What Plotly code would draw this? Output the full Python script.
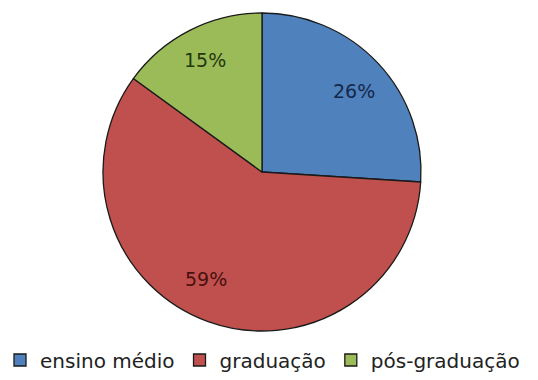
import math
import plotly.graph_objects as go

# Education level distribution
categories = ["ensino médio", "graduação", "pós-graduação"]
shares = [26, 59, 15]
slice_colors = ["#4F81BD", "#C0504D", "#9BBB59"]
label_colors = ["#15284a", "#4a1010", "#25380c"]

W, H = 538, 380
# pie placement in pixels (centre and radius)
cx, cy, R = 262, 172, 159
# radial position of the percentage labels (fraction of radius) and angular nudge (deg)
label_radius = [0.77, 0.76, 0.79]
label_nudge = [2, 8, 0]

fig = go.Figure(
    go.Pie(
        labels=categories,
        values=shares,
        sort=False,
        direction="clockwise",
        rotation=0,
        marker=dict(colors=slice_colors, line=dict(color="#1a1a1a", width=1.3)),
        textinfo="none",
        domain=dict(x=[(cx - R) / W, (cx + R) / W], y=[1 - (cy + R) / H, 1 - (cy - R) / H]),
        hoverinfo="label+percent",
    )
)

# percentage labels placed at each slice's mid angle (clockwise from 12 o'clock)
total = sum(shares)
start = 0.0
for val, col, rf, nudge in zip(shares, label_colors, label_radius, label_nudge):
    sweep = 360.0 * val / total
    mid = math.radians(start + sweep / 2 + nudge)
    px = cx + rf * R * math.sin(mid)
    py = cy - rf * R * math.cos(mid)
    fig.add_annotation(
        x=px / W, y=1 - py / H, xref="paper", yref="paper",
        text=f"{val}%", showarrow=False,
        font=dict(family="DejaVu Sans", size=19, color=col),
        xanchor="center", yanchor="middle",
    )
    start += sweep

fig.update_layout(
    width=W,
    height=H,
    margin=dict(l=0, r=0, t=0, b=0),
    paper_bgcolor="white",
    plot_bgcolor="white",
    font=dict(family="DejaVu Sans", size=20, color="#222222"),
    showlegend=True,
    legend=dict(
        orientation="h",
        x=0.0,
        xanchor="left",
        y=1 - 360 / H,
        yanchor="middle",
        itemwidth=30,
        font=dict(family="DejaVu Sans", size=20, color="#222222"),
        bgcolor="rgba(0,0,0,0)",
    ),
)

fig.write_html("out.html")
